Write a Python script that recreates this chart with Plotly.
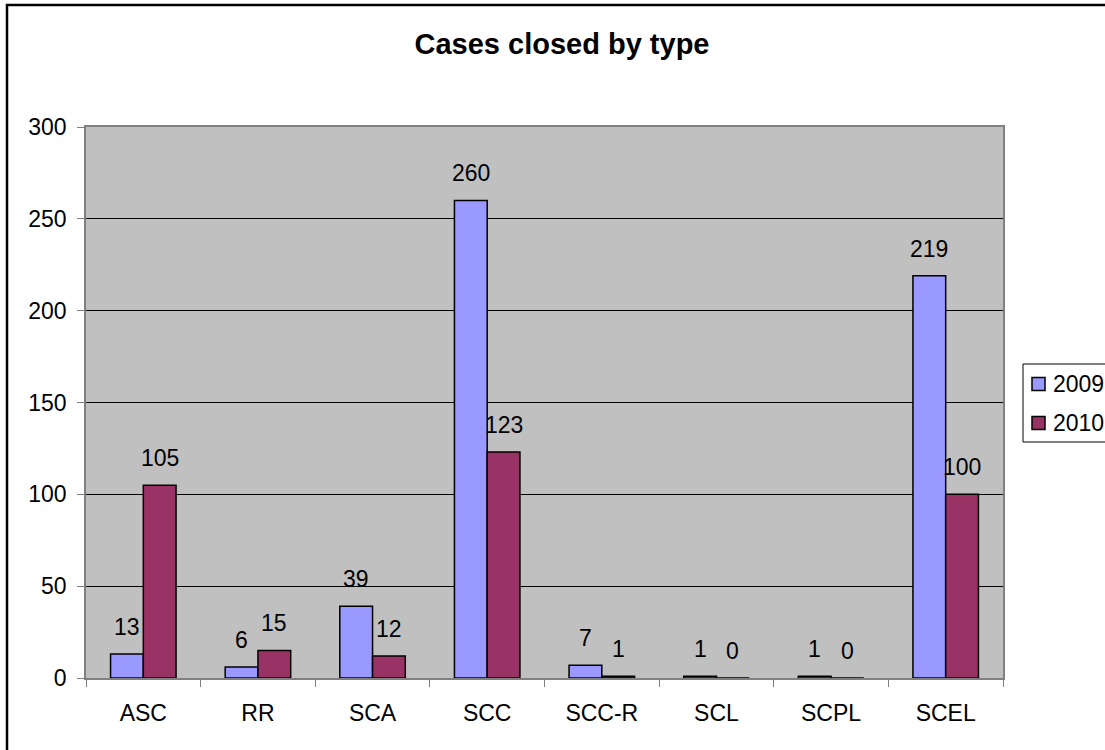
import plotly.graph_objects as go

categories = ["ASC", "RR", "SCA", "SCC", "SCC-R", "SCL", "SCPL", "SCEL"]
series_names = ["2009", "2010"]
values_2009 = [13, 6, 39, 260, 7, 1, 1, 219]
values_2010 = [105, 15, 12, 123, 1, 0, 0, 100]
colors = ["#9999FF", "#993366"]
y_ticks = [0, 50, 100, 150, 200, 250, 300]

W, H = 1105, 750
L, R, T, B = 86, 102, 127, 72
BARGAP = 1.5 / 3.5
FONT = "Liberation Sans, Arial, sans-serif"
FS = 23

fig = go.Figure()
for name, vals, col in zip(series_names, [values_2009, values_2010], colors):
    fig.add_trace(go.Bar(
        x=categories, y=vals, name=name, showlegend=False,
        marker=dict(color=col, line=dict(color="#000000", width=1.5)),
    ))

plot_w = W - L - R
plot_h = H - T - B
bar_w = plot_w / len(categories) * (1 - BARGAP) / 2
px = lambda p: (p - L) / plot_w
py = lambda p: (H - B - p) / plot_h

annotations = []
for i, vals in enumerate([values_2009, values_2010]):
    shift = (-0.5 if i == 0 else 0.5) * bar_w
    for c, v in zip(categories, vals):
        annotations.append(dict(
            x=c, y=v, xref="x", yref="y", text=str(v), showarrow=False,
            xshift=shift, yshift=27, yanchor="middle",
            font=dict(size=FS, color="#000000", family=FONT),
        ))

# legend (drawn as a boxed key to the right of the plot area)
shapes = [dict(type="rect", xref="paper", yref="paper",
               x0=px(1023), x1=px(W + 20), y0=py(442), y1=py(364),
               line=dict(color="#000000", width=1), fillcolor="#FFFFFF", layer="above")]
for name, col, yc in zip(series_names, colors, [384, 423]):
    shapes.append(dict(type="rect", xref="paper", yref="paper",
                       x0=px(1032), x1=px(1045), y0=py(yc + 6.5), y1=py(yc - 6.5),
                       line=dict(color="#000000", width=1.5), fillcolor=col, layer="above"))
    annotations.append(dict(x=px(1051), y=py(yc), xref="paper", yref="paper",
                            text=name, showarrow=False, xanchor="left", yanchor="middle",
                            font=dict(size=FS, color="#000000", family=FONT)))

# outer chart border
shapes.append(dict(type="rect", xref="paper", yref="paper",
                   x0=px(7), x1=px(W + 20), y0=py(H + 20), y1=py(5),
                   line=dict(color="#000000", width=2.5), fillcolor="rgba(0,0,0,0)",
                   layer="above"))

fig.update_layout(
    width=W, height=H,
    margin=dict(l=L, r=R, t=T, b=B, autoexpand=False),
    paper_bgcolor="#FFFFFF", plot_bgcolor="#C0C0C0",
    font=dict(family=FONT, size=FS, color="#000000"),
    title=dict(text="<b>Cases closed by type</b>", x=562 / W, xanchor="center",
               y=1 - 44 / H, yanchor="middle", xref="container", yref="container",
               font=dict(size=29, family=FONT, color="#000000")),
    barmode="group", bargap=BARGAP, bargroupgap=0,
    showlegend=False,
    xaxis=dict(type="category", showline=True, linecolor="#808080", linewidth=1.5,
               mirror=True, ticks="outside", ticklen=7, tickcolor="#808080",
               tickson="boundaries", showgrid=False, ticklabelstandoff=14,
               tickfont=dict(size=FS, family=FONT)),
    yaxis=dict(range=[0, 300], tickvals=y_ticks, showline=True, linecolor="#808080",
               linewidth=1.5, mirror=True, ticks="outside", ticklen=7,
               tickcolor="#808080", showgrid=True, gridcolor="#000000", gridwidth=1,
               zeroline=False, ticklabelstandoff=6,
               tickfont=dict(size=FS, family=FONT)),
    annotations=annotations,
    shapes=shapes,
)

fig.write_html("out.html", config={"displayModeBar": False},
               post_script="document.body.style.margin='0';document.body.style.overflow='hidden';")
